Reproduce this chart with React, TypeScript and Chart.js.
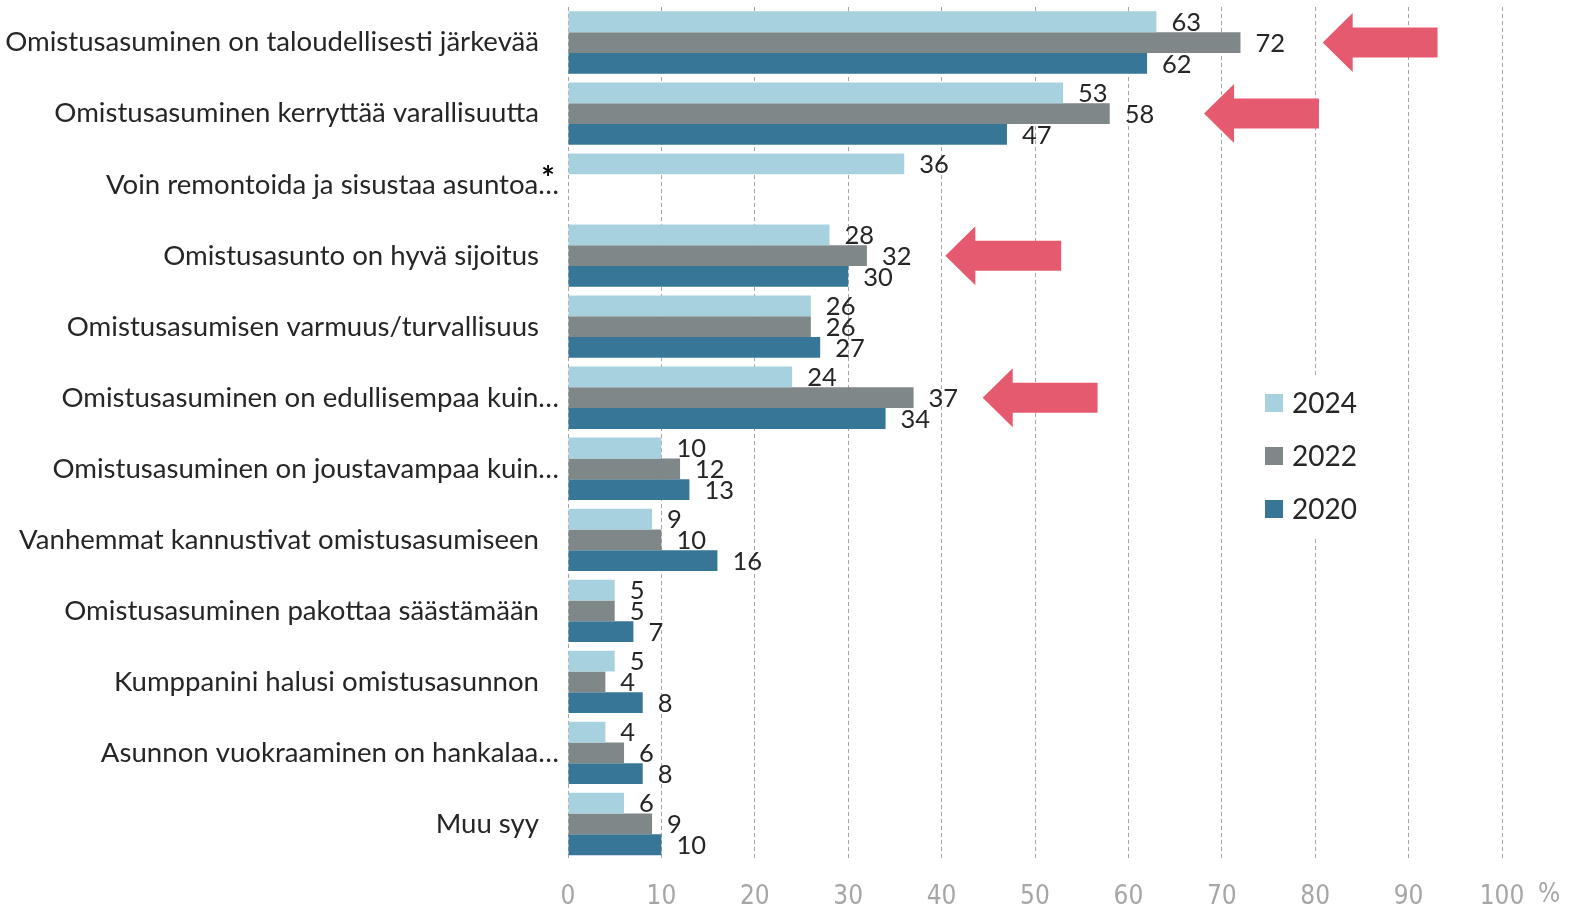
import React, { useEffect, useRef } from "react";
import { Chart, registerables } from "chart.js";

Chart.register(...registerables);

const categories = [
  "Omistusasuminen on taloudellisesti järkevää",
  "Omistusasuminen kerryttää varallisuutta",
  "Voin remontoida ja sisustaa asuntoa…",
  "Omistusasunto on hyvä sijoitus",
  "Omistusasumisen varmuus/turvallisuus",
  "Omistusasuminen on edullisempaa kuin…",
  "Omistusasuminen on joustavampaa kuin…",
  "Vanhemmat kannustivat omistusasumiseen",
  "Omistusasuminen pakottaa säästämään",
  "Kumppanini halusi omistusasunnon",
  "Asunnon vuokraaminen on hankalaa…",
  "Muu syy",
];

const values2024 = [63, 53, 36, 28, 26, 24, 10, 9, 5, 5, 4, 6];
const values2022 = [72, 58, null, 32, 26, 37, 12, 10, 5, 4, 6, 9];
const values2020 = [62, 47, null, 30, 27, 34, 13, 16, 7, 8, 8, 10];

const seriesLabels = ["2024", "2022", "2020"];
const seriesColors = ["#A8D1DF", "#7F8788", "#377697"];

const xTicks = [0, 10, 20, 30, 40, 50, 60, 70, 80, 90, 100];
const unitLabel = "%";
const starredCategory = 2;

// highlight arrows: category index, tip value, tail value (x-axis units)
const arrowCategories = [0, 1, 3, 5];
const arrowTips = [80.8, 68.1, 40.4, 44.4];
const arrowTails = [93.1, 80.4, 52.8, 56.7];

const TEXT = "#262626";
const FONT = "Lato, 'Open Sans', sans-serif";

const categoryLabelsPlugin = {
  id: "categoryLabels",
  afterDraw(chart: any) {
    const { ctx, chartArea } = chart;
    const y = chart.scales.y;
    ctx.save();
    ctx.fillStyle = TEXT;
    ctx.font = `27.6px ${FONT}`;
    ctx.textAlign = "right";
    ctx.textBaseline = "middle";
    categories.forEach((c, i) => {
      const py = y.getPixelForTick(i);
      const ell = c.endsWith("…");
      ctx.fillText(c, chartArea.left - (ell ? 9 : 29), py);
    });
    const sy = y.getPixelForTick(starredCategory);
    ctx.font = `bold 32px ${FONT}`;
    ctx.textAlign = "center";
    ctx.textBaseline = "alphabetic";
    ctx.fillStyle = "#000";
    ctx.fillText("*", chartArea.left - 20, sy + 5);
    // unit label
    ctx.font = "26px 'Liberation Sans Narrow', 'DejaVu Sans Condensed', sans-serif";
    ctx.fillStyle = "#A6A6A6";
    ctx.textAlign = "left";
    ctx.textBaseline = "middle";
    ctx.fillText(unitLabel, chartArea.right + 36, chartArea.bottom + 36);
    ctx.restore();
  },
};

const dataLabelsPlugin = {
  id: "dataLabels",
  afterDatasetsDraw(chart: any) {
    const { ctx } = chart;
    ctx.save();
    ctx.fillStyle = TEXT;
    ctx.font = `25.5px ${FONT}`;
    ctx.textAlign = "left";
    ctx.textBaseline = "middle";
    chart.data.datasets.forEach((ds: any, di: number) => {
      const meta = chart.getDatasetMeta(di);
      meta.data.forEach((el: any, i: number) => {
        const v = ds.data[i];
        if (v === null || v === undefined) return;
        ctx.fillText(String(v), el.x + 15, el.y + 1);
      });
    });
    ctx.restore();
  },
};

const arrowsPlugin = {
  id: "arrows",
  afterDatasetsDraw(chart: any) {
    const { ctx } = chart;
    const xs = chart.scales.x;
    const ys = chart.scales.y;
    ctx.save();
    ctx.fillStyle = "#E55A6E";
    arrowCategories.forEach((ci, k) => {
      const tip = xs.getPixelForValue(arrowTips[k]);
      const tail = xs.getPixelForValue(arrowTails[k]);
      const cy = ys.getPixelForTick(ci);
      const headLen = 30;
      const headH = 29.5;
      const shaftH = 15;
      ctx.beginPath();
      ctx.moveTo(tip, cy);
      ctx.lineTo(tip + headLen, cy - headH);
      ctx.lineTo(tip + headLen, cy - shaftH);
      ctx.lineTo(tail, cy - shaftH);
      ctx.lineTo(tail, cy + shaftH);
      ctx.lineTo(tip + headLen, cy + shaftH);
      ctx.lineTo(tip + headLen, cy + headH);
      ctx.closePath();
      ctx.fill();
    });
    ctx.restore();
  },
};

const legendPlugin = {
  id: "customLegend",
  afterDatasetsDraw(chart: any) {
    const { ctx } = chart;
    ctx.save();
    ctx.fillStyle = "#fff";
    ctx.fillRect(1255, 375, 120, 163);
    ctx.font = `28px ${FONT}`;
    ctx.textAlign = "left";
    ctx.textBaseline = "middle";
    chart.data.datasets.forEach((ds: any, i: number) => {
      const cy = 403 + i * 53;
      ctx.fillStyle = ds.backgroundColor;
      ctx.fillRect(1265, cy - 9, 18, 18);
      ctx.fillStyle = TEXT;
      ctx.fillText(ds.label, 1292, cy + 1);
    });
    ctx.restore();
  },
};

export default function App() {
  const ref = useRef<HTMLCanvasElement | null>(null);
  useEffect(() => {
    document.body.style.margin = "0";
    if (!ref.current) return;
    const seriesValues = [values2024, values2022, values2020];
    const chart = new Chart(ref.current, {
      type: "bar",
      data: {
        labels: categories,
        datasets: seriesLabels.map((l, i) => ({
          label: l,
          data: seriesValues[i],
          backgroundColor: seriesColors[i],
          borderWidth: 0,
          categoryPercentage: 0.877,
          barPercentage: 1,
        })),
      },
      options: {
        indexAxis: "y",
        animation: false,
        responsive: false,
        layout: { padding: { top: 7, right: 89, left: 0, bottom: 0 } },
        plugins: { legend: { display: false }, tooltip: { enabled: false } },
        scales: {
          x: {
            min: 0,
            max: 100,
            afterBuildTicks: (s: any) => {
              s.ticks = xTicks.map((v) => ({ value: v }));
            },
            grid: { color: "#A6A6A6", lineWidth: 1, drawTicks: false },
            border: { display: false, dash: [4, 3] },
            ticks: {
              color: "#A6A6A6",
              padding: 22,
              font: { family: "'Liberation Sans Narrow', 'DejaVu Sans Condensed', sans-serif", size: 26 },
            },
            afterFit: (s: any) => {
              s.height = 47.5;
            },
          },
          y: {
            grid: { display: false, drawTicks: false },
            border: { display: false },
            ticks: { display: false },
            afterFit: (s: any) => {
              s.width = 568;
            },
          },
        },
      },
      plugins: [arrowsPlugin, dataLabelsPlugin, legendPlugin, categoryLabelsPlugin],
    } as any);
    return () => chart.destroy();
  }, []);
  return (
    <div style={{ width: 1591, height: 907, overflow: "hidden", background: "#fff" }}>
      <canvas ref={ref} width={1591} height={907} style={{ display: "block" }} />
    </div>
  );
}
